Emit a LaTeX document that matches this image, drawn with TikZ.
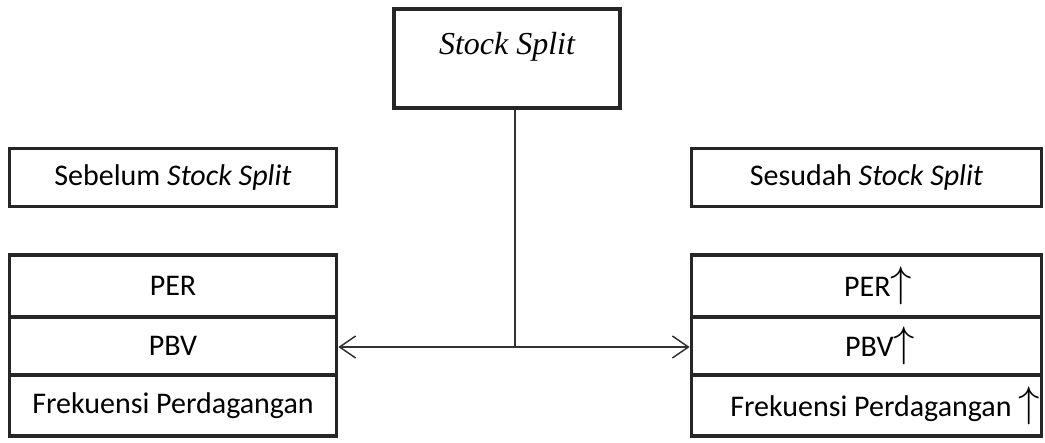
\documentclass[tikz,border=0pt]{standalone}
\usepackage{fontspec}
\usepackage{graphicx}
\setmainfont{Carlito}
\newfontfamily\tnr{Liberation Serif}
\usetikzlibrary{arrows.meta}
\definecolor{boxc}{HTML}{262626}
\definecolor{linec}{HTML}{333333}
\newcommand{\upar}{\resizebox*{!}{38pt}{$\uparrow$}}
\begin{document}
\begin{tikzpicture}[x=1pt,y=-1pt,
  box/.style={draw=boxc, line width=3.6pt, rectangle, inner sep=0pt, font=\fontsize{30}{36}\selectfont},
  conn/.style={draw=linec, line width=1.5pt},
  barb/.style={-{Straight Barb[length=16pt,width=22pt,line width=1.5pt]}}]
\useasboundingbox (0,0) rectangle (1045,443);
% top box
\node[box, line width=4.8pt, minimum width=226pt, minimum height=99pt] (top) at (507,58.5) {};
\node[font=\tnr\itshape\fontsize{32}{38}\selectfont, inner sep=0pt, anchor=base] (toplbl) at (507,55) {Stock Split};
% headers
\node[box, minimum width=327pt, minimum height=58pt] (lh) at (173,177.5) {Sebelum \textit{Stock Split}};
\node[box, minimum width=350pt, minimum height=58pt] (rh) at (866.5,177.5) {Sesudah \textit{Stock Split}};
% left stack
\node[box, minimum width=327pt, minimum height=62pt] (l1) at (173,286) {PER};
\node[box, minimum width=327pt, minimum height=58pt] (l2) at (173,346) {PBV};
\node[box, minimum width=327pt, minimum height=61pt] (l3) at (173,405.5) {Frekuensi Perdagangan};
% right stack
\node[box, minimum width=350pt, minimum height=62pt] (r1) at (866.5,286) {\hspace*{23pt}PER\upar};
\node[box, minimum width=350pt, minimum height=58pt] (r2) at (866.5,346) {\hspace*{27pt}PBV\upar};
\node[box, minimum width=350pt, minimum height=61pt] (r3) at (866.5,405.5) {\hspace*{37pt}Frekuensi Perdagangan \upar};
% connectors
\coordinate (j) at (515,347);
\draw[conn] (top.south -| j) -- (j);
\draw[conn, barb] (j) -- (l2.east |- j);
\draw[conn, barb] (j) -- (r2.west |- j);
\end{tikzpicture}
\end{document}
